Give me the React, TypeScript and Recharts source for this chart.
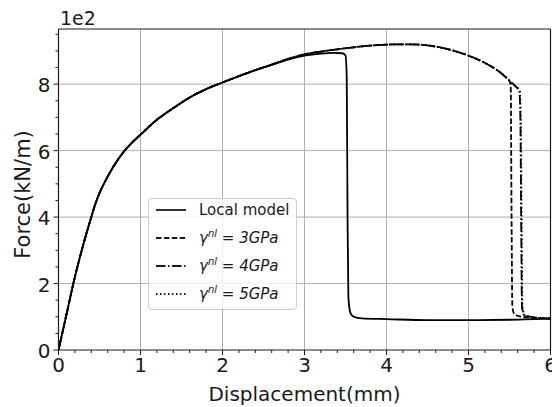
import React from 'react';
import { LineChart, Line, XAxis, YAxis, ReferenceLine, Legend } from 'recharts';

// Force (x1e2 kN/m) vs displacement (mm)
const localModel = [
  [0, 0], [0.1, 1.1], [0.2, 2.2], [0.3, 3.15], [0.4, 4.0], [0.45, 4.4], [0.5, 4.72],
  [0.6, 5.22], [0.75, 5.82], [0.9, 6.25], [1.0, 6.48], [1.2, 6.93], [1.4, 7.28], [1.6, 7.6],
  [1.8, 7.85], [2.0, 8.05], [2.2, 8.24], [2.4, 8.42], [2.6, 8.58], [2.8, 8.74], [3.0, 8.86],
  [3.2, 8.92], [3.35, 8.94], [3.46, 8.93], [3.5, 8.86], [3.515, 8.2], [3.525, 4.0],
  [3.535, 1.6], [3.56, 1.12], [3.6, 1.0], [3.7, 0.95], [4.0, 0.93], [4.5, 0.9], [5.0, 0.9],
  [5.5, 0.91], [5.8, 0.93], [6.0, 0.94],
];

const gamma3 = [
  [0, 0], [0.1, 1.1], [0.2, 2.2], [0.3, 3.15], [0.4, 4.0], [0.45, 4.4], [0.5, 4.72],
  [0.6, 5.22], [0.75, 5.82], [0.9, 6.25], [1.0, 6.48], [1.2, 6.93], [1.4, 7.28], [1.6, 7.6],
  [1.8, 7.85], [2.0, 8.05], [2.2, 8.24], [2.4, 8.42], [2.6, 8.59], [2.8, 8.76], [3.0, 8.9],
  [3.2, 8.98], [3.4, 9.05], [3.6, 9.11], [3.8, 9.16], [4.0, 9.19], [4.2, 9.2], [4.4, 9.19],
  [4.6, 9.13], [4.8, 9.02], [5.0, 8.86], [5.2, 8.64], [5.35, 8.42], [5.45, 8.22], [5.5, 8.1],
  [5.515, 7.9], [5.525, 4.0], [5.535, 1.3], [5.56, 1.08], [5.65, 1.0], [5.8, 0.97], [6.0, 0.95],
];

const gamma4 = [
  [0, 0], [0.1, 1.1], [0.2, 2.2], [0.3, 3.15], [0.4, 4.0], [0.45, 4.4], [0.5, 4.72],
  [0.6, 5.22], [0.75, 5.82], [0.9, 6.25], [1.0, 6.48], [1.2, 6.93], [1.4, 7.28], [1.6, 7.6],
  [1.8, 7.85], [2.0, 8.05], [2.2, 8.24], [2.4, 8.42], [2.6, 8.59], [2.8, 8.76], [3.0, 8.9],
  [3.2, 8.98], [3.4, 9.05], [3.6, 9.11], [3.8, 9.16], [4.0, 9.19], [4.2, 9.2], [4.4, 9.19],
  [4.6, 9.13], [4.8, 9.02], [5.0, 8.86], [5.2, 8.64], [5.35, 8.42], [5.45, 8.22], [5.5, 8.1],
  [5.58, 7.92], [5.62, 7.8], [5.632, 7.0], [5.642, 4.0], [5.652, 1.3], [5.68, 1.05],
  [5.8, 0.98], [6.0, 0.95],
];

const gamma5 = [
  [0, 0], [0.1, 1.1], [0.2, 2.2], [0.3, 3.15], [0.4, 4.0], [0.45, 4.4], [0.5, 4.72],
  [0.6, 5.22], [0.75, 5.82], [0.9, 6.25], [1.0, 6.48], [1.2, 6.93], [1.4, 7.28], [1.6, 7.6],
  [1.8, 7.85], [2.0, 8.05], [2.2, 8.24], [2.4, 8.42], [2.6, 8.59], [2.8, 8.76], [3.0, 8.9],
  [3.2, 8.98], [3.4, 9.05], [3.6, 9.11], [3.8, 9.16], [4.0, 9.19], [4.2, 9.2], [4.4, 9.19],
  [4.6, 9.13], [4.8, 9.02], [5.0, 8.86], [5.2, 8.64], [5.35, 8.42], [5.45, 8.22], [5.5, 8.1],
  [5.58, 7.92], [5.625, 7.8], [5.638, 7.0], [5.648, 4.0], [5.658, 1.3], [5.69, 1.04],
  [5.8, 0.98], [6.0, 0.95],
];

const xMajor = [0, 1, 2, 3, 4, 5, 6];
const xTicks = [
  0, 0.2, 0.4, 0.6, 0.8, 1, 1.2, 1.4, 1.6, 1.8, 2, 2.2, 2.4, 2.6, 2.8, 3,
  3.2, 3.4, 3.6, 3.8, 4, 4.2, 4.4, 4.6, 4.8, 5, 5.2, 5.4, 5.6, 5.8, 6,
];
const yMajor = [0, 2, 4, 6, 8];
const yTicks = [
  0, 0.5, 1, 1.5, 2, 2.5, 3, 3.5, 4, 4.5, 5, 5.5, 6, 6.5, 7, 7.5, 8, 8.5, 9, 9.5,
];
const yMax = 9.66;

const gammaLabels = ['3GPa', '4GPa', '5GPa'];

const FONT = '"DejaVu Sans", sans-serif';
const INK = '#1a1a1a';

const toPts = (arr: number[][]) => arr.map(([x, y]) => ({ x, y }));

const series = [
  { key: 'local', data: toPts(localModel), dash: undefined, label: 'Local model' },
  { key: 'g3', data: toPts(gamma3), dash: '5.5 2.4', label: gammaLabels[0] },
  { key: 'g4', data: toPts(gamma4), dash: '9.6 2.4 1.5 2.4', label: gammaLabels[1] },
  { key: 'g5', data: toPts(gamma5), dash: '1.5 2.5', label: gammaLabels[2] },
];

function XTick(props: any) {
  const { x, y, payload } = props;
  const major = xMajor.includes(payload.value);
  return (
    <g>
      <line x1={x} x2={x} y1={y} y2={y + (major ? 5 : 3)} stroke={INK} strokeWidth={1} />
      {major && (
        <text x={x} y={y + 15} textAnchor="middle" dominantBaseline="central"
          fontFamily={FONT} fontSize={20} fill={INK}>
          {payload.value}
        </text>
      )}
    </g>
  );
}

function YTick(props: any) {
  const { x, y, payload } = props;
  const major = yMajor.includes(payload.value);
  return (
    <g>
      <line x1={x - (major ? 5 : 3)} x2={x} y1={y} y2={y} stroke={INK} strokeWidth={1} />
      {major && (
        <text x={x - 8} y={y + 1} textAnchor="end" dominantBaseline="central"
          fontFamily={FONT} fontSize={20} fill={INK}>
          {payload.value}
        </text>
      )}
    </g>
  );
}

function LegendBox() {
  return (
    <div
      style={{
        width: 149, height: 112, boxSizing: 'border-box',
        border: '1px solid #cccccc', borderRadius: 4,
        background: 'rgba(255,255,255,0.8)', position: 'relative',
        fontFamily: FONT, fontSize: 15, color: INK,
      }}
    >
      {series.map((s, i) => (
        <div key={s.key}
          style={{ position: 'absolute', left: 0, top: 11 + i * 28 - 10, height: 20, width: '100%' }}>
          <svg width={40} height={20} style={{ position: 'absolute', left: 0, top: 0 }}>
            <line x1={7} x2={37} y1={10} y2={10} stroke={INK} strokeWidth={1.8}
              strokeDasharray={s.dash} />
          </svg>
          <div style={{ position: 'absolute', left: 50, top: 0, lineHeight: '20px', whiteSpace: 'nowrap' }}>
            {i === 0 ? (
              s.label
            ) : (
              <span>
                <i>γ</i>
                <i style={{ fontSize: 10, position: 'relative', top: -6 }}>nl</i>
                {' = '}
                <i>{s.label}</i>
              </span>
            )}
          </div>
        </div>
      ))}
    </div>
  );
}

export default function App() {
  return (
    <div style={{ position: 'absolute', left: 0, top: 0, width: 552, height: 407, background: '#fff' }}>
      <LineChart width={552} height={407} margin={{ top: 29, right: 1.5, left: 0, bottom: 0 }}>
        <XAxis
          type="number"
          dataKey="x"
          domain={[0, 6]}
          ticks={xTicks}
          interval={0}
          tickSize={0}
          tickMargin={0}
          tickLine={false}
          tick={<XTick />}
          height={57}
          axisLine={{ stroke: INK, strokeWidth: 1.2 }}
          allowDataOverflow
          label={{
            content: (p: any) => {
              const vb = p.viewBox;
              return (
                <text x={vb.x + vb.width / 2} y={394} textAnchor="middle" dominantBaseline="central"
                  fontFamily={FONT} fontSize={20} fill={INK}>
                  Displacement(mm)
                </text>
              );
            },
          }}
        />
        <YAxis
          type="number"
          dataKey="y"
          domain={[0, yMax]}
          ticks={yTicks}
          interval={0}
          tickSize={0}
          tickMargin={0}
          tickLine={false}
          tick={<YTick />}
          width={58.5}
          axisLine={{ stroke: INK, strokeWidth: 1.2 }}
          allowDataOverflow
          label={{
            content: (p: any) => {
              const vb = p.viewBox;
              const cy = vb.y + vb.height / 2 + 5;
              return (
                <g>
                  <text x={23} y={cy} transform={`rotate(-90 23 ${cy})`} textAnchor="middle"
                    dominantBaseline="central" fontFamily={FONT} fontSize={21} fill={INK}>
                    Force(kN/m)
                  </text>
                  <text x={60} y={vb.y - 4} textAnchor="start" fontFamily={FONT} fontSize={19} fill={INK}>
                    1e2
                  </text>
                </g>
              );
            },
          }}
        />
        {xMajor.slice(1, -1).map((v) => (
          <ReferenceLine key={`gx${v}`} x={v} stroke="#b0b0b0" strokeWidth={1} />
        ))}
        {yMajor.slice(1).map((v) => (
          <ReferenceLine key={`gy${v}`} y={v} stroke="#b0b0b0" strokeWidth={1} />
        ))}
        <ReferenceLine y={yMax} stroke={INK} strokeWidth={1.2} />
        <ReferenceLine x={6} stroke={INK} strokeWidth={1.2} />
        {series.map((s) => (
          <Line
            key={s.key}
            data={s.data}
            dataKey="y"
            type="monotone"
            stroke="#000"
            strokeWidth={1.8}
            strokeDasharray={s.dash}
            dot={false}
            activeDot={false}
            isAnimationActive={false}
          />
        ))}
        <Legend
          layout="vertical"
          align="center"
          verticalAlign="middle"
          wrapperStyle={{ left: 148, top: 198, width: 149, height: 112 }}
          content={() => <LegendBox />}
        />
      </LineChart>
    </div>
  );
}
